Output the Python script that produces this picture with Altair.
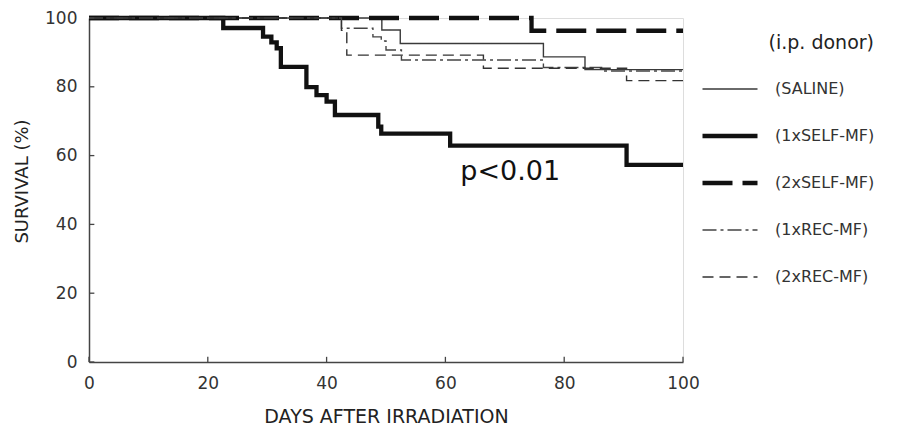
import altair as alt
import pandas as pd

groups = ["(SALINE)", "(1xSELF-MF)", "(2xSELF-MF)", "(1xREC-MF)", "(2xREC-MF)"]

saline_days = [0, 49.3, 52.4, 76.5, 83.5, 100]
saline_surv = [100, 96.5, 92.6, 88.7, 85.0, 85.0]

self1_days = [0, 22.6, 29.3, 30.7, 31.6, 32.3, 36.6, 38.3, 40.0, 41.4, 48.7, 49.2, 60.8, 90.5, 100]
self1_surv = [100, 97.1, 94.6, 92.9, 91.2, 85.8, 79.9, 77.6, 75.7, 71.8, 68.4, 66.4, 62.9, 57.3, 57.3]

self2_days = [0, 74.5, 100]
self2_surv = [100, 96.3, 96.3]

rec1_days = [0, 42.5, 47.8, 49.2, 50.0, 52.6, 76.5, 86.3, 100]
rec1_surv = [100, 97.0, 94.5, 93.3, 90.7, 87.8, 85.6, 84.6, 84.6]

rec2_days = [0, 42.5, 43.4, 66.4, 90.5, 100]
rec2_surv = [100, 96.4, 89.2, 85.4, 81.8, 81.8]

x_ticks = [0, 20, 40, 60, 80, 100]
y_ticks = [0, 20, 40, 60, 80, 100]

line_colors = ["#3a3a3a", "#111111", "#111111", "#444444", "#333333"]
line_dashes = [[1, 0], [1, 0], [30, 10], [14, 4, 3, 4], [11, 6]]
line_widths = [1.4, 4.3, 4.3, 1.4, 1.4]

rows = []
for g, ds, ss in zip(groups,
                     [saline_days, self1_days, self2_days, rec1_days, rec2_days],
                     [saline_surv, self1_surv, self2_surv, rec1_surv, rec2_surv]):
    for d, s in zip(ds, ss):
        rows.append({"group": g, "day": d, "surv": s})
df = pd.DataFrame(rows)

FONT = "DejaVu Sans"
xs = alt.Scale(domain=[0, 100], nice=False)
ys = alt.Scale(domain=[0, 100], nice=False)

legend = alt.Legend(
    orient="none", legendX=611, legendY=16,
    title="(i.p. donor)", titleFont=FONT, titleFontSize=19, titleFontWeight="normal",
    titleColor="#222", titleAnchor="end", titlePadding=26,
    labelFont=FONT, labelFontSize=16, labelColor="#333", labelOffset=15,
    symbolType="stroke", symbolSize=3025, clipHeight=20, rowPadding=27,
)

lines = alt.Chart(df).mark_line(interpolate="step-after", clip=False).encode(
    x=alt.X("day:Q", scale=xs, axis=alt.Axis(
        values=x_ticks, title="DAYS AFTER IRRADIATION", ticks=False, grid=False, labelFlush=False,
        labelFont=FONT, labelFontSize=17, labelColor="#333", labelPadding=13,
        titleFont=FONT, titleFontSize=19, titleFontWeight="normal", titleColor="#222", titlePadding=16,
        domainColor="#444", domainWidth=1.5)),
    y=alt.Y("surv:Q", scale=ys, axis=alt.Axis(
        values=y_ticks, title="SURVIVAL (%)", ticks=False, grid=False, labelFlush=False,
        labelFont=FONT, labelFontSize=17, labelColor="#333", labelPadding=12,
        titleFont=FONT, titleFontSize=18, titleFontWeight="normal", titleColor="#222",
        titleX=-58, titleY=163, titleAngle=270, titleAlign="center", titleBaseline="bottom",
        domainColor="#444", domainWidth=1.5)),
    color=alt.Color("group:N", scale=alt.Scale(domain=groups, range=line_colors), legend=legend),
    strokeDash=alt.StrokeDash("group:N", scale=alt.Scale(domain=groups, range=line_dashes), legend=legend),
    strokeWidth=alt.StrokeWidth("group:N", scale=alt.Scale(type="ordinal", domain=groups, range=line_widths), legend=legend),
)

xt = alt.Chart(pd.DataFrame({"t": x_ticks})).mark_rule(color="#444", strokeWidth=1.3).encode(
    x=alt.X("t:Q", scale=xs), y=alt.datum(0), y2=alt.datum(1.5))
yt = alt.Chart(pd.DataFrame({"t": y_ticks})).mark_rule(color="#444", strokeWidth=1.3).encode(
    y=alt.Y("t:Q", scale=ys), x=alt.datum(0), x2=alt.datum(0.9))

ptxt = alt.Chart(pd.DataFrame({"x": [62.5], "y": [55.2], "t": ["p<0.01"]})).mark_text(
    align="left", baseline="middle", font=FONT, fontSize=27, color="#111").encode(
    x=alt.X("x:Q", scale=xs), y=alt.Y("y:Q", scale=ys), text="t:N")

chart = alt.layer(lines, xt, yt, ptxt).properties(
    width=594, height=344,
    autosize=alt.AutoSizeParams(type="none"),
    padding={"left": 81, "top": 10, "right": 200, "bottom": 66},
).configure_view(stroke=None).configure(background="white")

chart.save("out.html", embed_options={"renderer": "svg", "actions": False})
